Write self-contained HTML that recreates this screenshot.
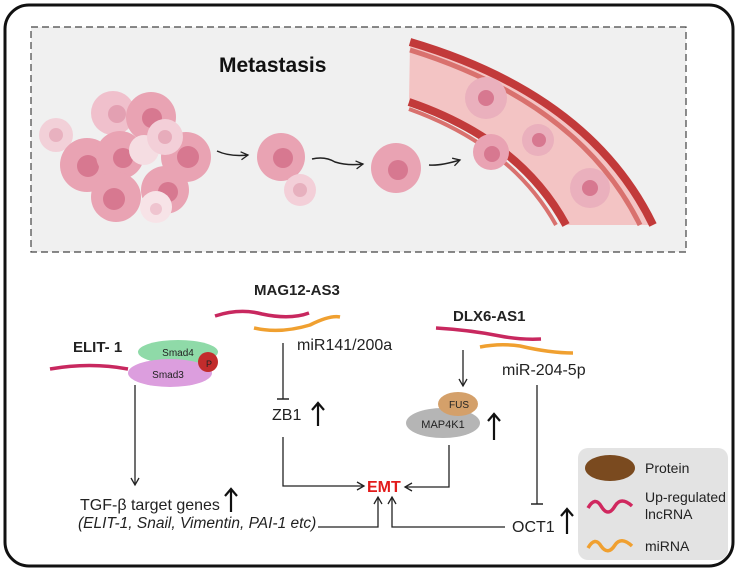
<!DOCTYPE html>
<html><head><meta charset="utf-8"><style>
html,body{margin:0;padding:0;background:#fff;}
svg{display:block;font-family:"Liberation Sans",Arial,sans-serif;}
</style></head><body>
<svg width="738" height="572" viewBox="0 0 738 572" xmlns="http://www.w3.org/2000/svg">
<defs>
<marker id="ah" markerWidth="10" markerHeight="10" refX="8" refY="5" orient="auto" markerUnits="userSpaceOnUse"><path d="M1,1 L8,5 L1,9" fill="none" stroke="#222" stroke-width="1.3"/></marker>
<marker id="bar" markerWidth="12" markerHeight="12" refX="6" refY="6" orient="auto" markerUnits="userSpaceOnUse"><path d="M6,0 L6,12" stroke="#222" stroke-width="1.5"/></marker>
</defs>
<rect x="5" y="5" width="728" height="561" rx="24" fill="#fff" stroke="#111" stroke-width="3"/>
<rect x="31" y="27" width="655" height="225" fill="#f0f0f0" stroke="#444" stroke-width="1.2" stroke-dasharray="7,4"/>
<text x="219" y="72" font-size="21" font-weight="bold" fill="#111">Metastasis</text>
<!-- vessel -->
<path d="M410,42 Q590,95 653,225 L566,225 Q520,140 409,102 Z" fill="#f3c4c4"/>
<path d="M410,42 Q590,95 653,225" fill="none" stroke="#c23a3a" stroke-width="8"/>
<path d="M410,50 Q580,103 640,225" fill="none" stroke="#d9716e" stroke-width="5"/>
<path d="M409,102 Q520,140 566,225" fill="none" stroke="#c23a3a" stroke-width="8"/>
<path d="M409,109 Q512,146 556,225" fill="none" stroke="#d9716e" stroke-width="4"/>
<!-- cells -->
<g>
<circle cx="56" cy="135" r="17" fill="#f2d0d8"/><circle cx="56" cy="135" r="7" fill="#e8b1bf"/>
<circle cx="113" cy="113" r="22" fill="#f0c0cc"/><circle cx="117" cy="114" r="9" fill="#e3a0b2"/>
<circle cx="151" cy="117" r="25" fill="#e9a3b3"/><circle cx="152" cy="118" r="10" fill="#d77890"/>
<circle cx="87" cy="165" r="27" fill="#e9a3b3"/><circle cx="88" cy="166" r="11" fill="#d77890"/>
<circle cx="120" cy="155" r="24" fill="#e9a3b3"/><circle cx="123" cy="158" r="10" fill="#d77890"/>
<circle cx="186" cy="157" r="25" fill="#e9a3b3"/><circle cx="188" cy="157" r="11" fill="#d77890"/>
<circle cx="116" cy="197" r="25" fill="#e9a3b3"/><circle cx="114" cy="199" r="11" fill="#d77890"/>
<circle cx="165" cy="190" r="24" fill="#e9a3b3"/><circle cx="168" cy="192" r="10" fill="#d77890"/>
<circle cx="144" cy="150" r="15" fill="#f5dde2"/>
<circle cx="165" cy="137" r="18" fill="#f3cfd8"/><circle cx="165" cy="137" r="7" fill="#e7acbb"/>
<circle cx="156" cy="207" r="16" fill="#f7e3e7"/><circle cx="156" cy="209" r="6" fill="#efc4cf"/>
<circle cx="281" cy="157" r="24" fill="#e9a3b3"/><circle cx="283" cy="158" r="10" fill="#d77890"/>
<circle cx="300" cy="190" r="16" fill="#f3cfd8"/><circle cx="300" cy="190" r="7" fill="#e7b0be"/>
<circle cx="396" cy="168" r="25" fill="#e9a3b3"/><circle cx="398" cy="170" r="10" fill="#d77890"/>
<circle cx="491" cy="152" r="18" fill="#e9a3b3"/><circle cx="492" cy="154" r="8" fill="#d77890"/>
<circle cx="486" cy="98" r="21" fill="#eab0bd"/><circle cx="486" cy="98" r="8" fill="#d77890"/>
<circle cx="538" cy="140" r="16" fill="#eab0bd"/><circle cx="539" cy="140" r="7" fill="#d77890"/>
<circle cx="590" cy="188" r="20" fill="#eab0bd"/><circle cx="590" cy="188" r="8" fill="#d77890"/>
</g>
<g fill="none" stroke="#222" stroke-width="1.5" marker-end="url(#ah)">
<path d="M217,151 Q230,157 248,155"/>
<path d="M312,159 Q325,156 335,162 Q348,166 363,164"/>
<path d="M429,165 Q440,166 460,160"/>
</g>
<!-- bottom diagram -->
<g font-size="15" fill="#222">
<text x="254" y="295" font-weight="bold">MAG12-AS3</text>
<text x="73" y="352" font-weight="bold">ELIT- 1</text>
<text x="453" y="321" font-weight="bold">DLX6-AS1</text>
</g>
<path d="M50,369 Q90,362 128,369" fill="none" stroke="#c8285f" stroke-width="3.5"/>
<ellipse cx="178" cy="352" rx="40" ry="12" fill="#8fdaa8"/>
<ellipse cx="170" cy="373" rx="42" ry="14" fill="#dc9ede"/>
<circle cx="208" cy="362" r="10" fill="#c22c2c"/>
<text x="209" y="367" font-size="9" fill="#222" text-anchor="middle">P</text>
<text x="178" y="356" font-size="10" fill="#222" text-anchor="middle">Smad4</text>
<text x="168" y="378" font-size="10" fill="#222" text-anchor="middle">Smad3</text>
<path d="M215,316 Q240,308 262,314 Q290,320 309,313" fill="none" stroke="#c8285f" stroke-width="3.5"/>
<path d="M254,328 Q280,334 310,325 Q330,315 340,317" fill="none" stroke="#f0a030" stroke-width="3.5"/>
<text x="297" y="350" font-size="16" fill="#222">miR141/200a</text>
<path d="M283,343 L283,399" stroke="#222" stroke-width="1.3" marker-end="url(#bar)"/>
<text x="272" y="420" font-size="16" fill="#222">ZB1</text>
<path d="M318,426 L318,404 M312,410 L318,403 L324,410" stroke="#111" stroke-width="2.2" fill="none"/>
<path d="M283,437 L283,486 L364,486" fill="none" stroke="#222" stroke-width="1.3" marker-end="url(#ah)"/>
<text x="367" y="492" font-size="16" font-weight="bold" fill="#e21b1b">EMT</text>
<path d="M135,385 L135,485" fill="none" stroke="#222" stroke-width="1.3" marker-end="url(#ah)"/>
<text x="80" y="510" font-size="16" fill="#222">TGF-β target genes</text>
<path d="M231,512 L231,490 M225,496 L231,489 L237,496" stroke="#111" stroke-width="2.2" fill="none"/>
<text x="78" y="528" font-size="15.5" font-style="italic" fill="#222">(ELIT-1, Snail, Vimentin, PAI-1 etc)</text>
<path d="M318,527 L378,527 L378,497" fill="none" stroke="#222" stroke-width="1.3" marker-end="url(#ah)"/>
<path d="M505,527 L392,527 L392,497" fill="none" stroke="#222" stroke-width="1.3" marker-end="url(#ah)"/>
<path d="M436,328 Q470,330 500,336 Q520,340 541,339" fill="none" stroke="#c8285f" stroke-width="3.5"/>
<path d="M480,347 Q500,343 520,346 Q550,353 573,353" fill="none" stroke="#f0a030" stroke-width="3.5"/>
<path d="M463,350 L463,386" fill="none" stroke="#222" stroke-width="1.3" marker-end="url(#ah)"/>
<ellipse cx="443" cy="423" rx="37" ry="15" fill="#b5b5b5"/>
<ellipse cx="458" cy="404" rx="20" ry="12" fill="#d4a06a"/>
<text x="459" y="408" font-size="10" fill="#222" text-anchor="middle">FUS</text>
<text x="443" y="428" font-size="11" fill="#222" text-anchor="middle">MAP4K1</text>
<path d="M494,440 L494,415 M488,421 L494,414 L500,421" stroke="#111" stroke-width="2.2" fill="none"/>
<path d="M449,445 L449,487 L405,487" fill="none" stroke="#222" stroke-width="1.3" marker-end="url(#ah)"/>
<text x="502" y="375" font-size="16" fill="#222">miR-204-5p</text>
<path d="M537,385 L537,504" stroke="#222" stroke-width="1.3" marker-end="url(#bar)"/>
<text x="512" y="532" font-size="16" fill="#222">OCT1</text>
<path d="M567,534 L567,510 M561,516 L567,509 L573,516" stroke="#111" stroke-width="2.2" fill="none"/>
<!-- legend -->
<rect x="578" y="448" width="150" height="112" rx="10" fill="#e3e3e3"/>
<ellipse cx="610" cy="468" rx="25" ry="13" fill="#7a4a1f"/>
<text x="645" y="473" font-size="14" fill="#222">Protein</text>
<path d="M588,508 Q595,496 601,506 Q608,518 615,506 Q621,496 632,506" fill="none" stroke="#d0285f" stroke-width="3.5"/>
<text x="645" y="502" font-size="14" fill="#222">Up-regulated</text>
<text x="645" y="519" font-size="14" fill="#222">lncRNA</text>
<path d="M588,548 Q595,536 601,546 Q608,556 615,545 Q621,536 632,546" fill="none" stroke="#f0a030" stroke-width="3.5"/>
<text x="645" y="551" font-size="14" fill="#222">miRNA</text>
</svg>
</body></html>
